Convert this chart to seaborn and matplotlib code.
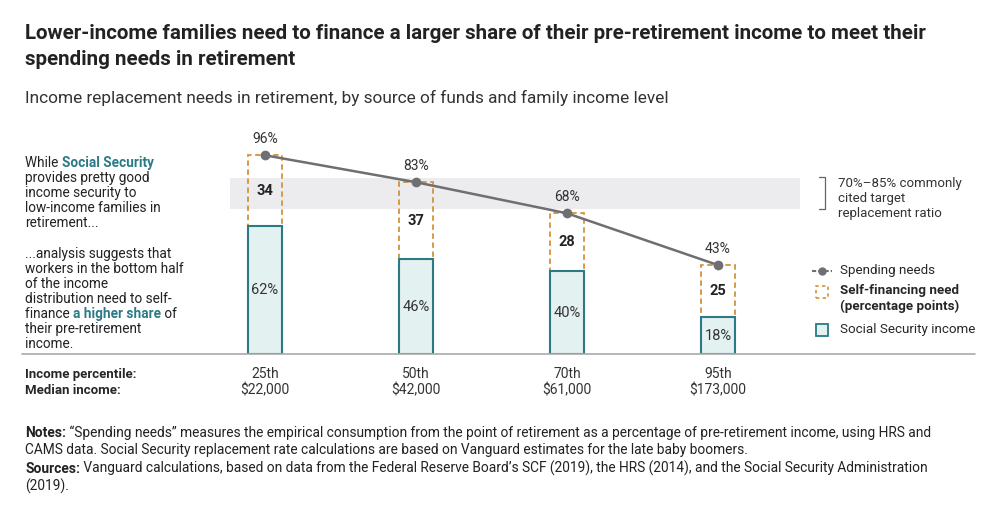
import matplotlib
matplotlib.use("Agg")
import matplotlib.pyplot as plt
import seaborn as sns
import pandas as pd
import numpy as np

percentiles = ["25th", "50th", "70th", "95th"]
median_income = ["$22,000", "$42,000", "$61,000", "$173,000"]
spending_needs = [96, 83, 68, 43]
social_security = [62, 46, 40, 18]
self_financing = [34, 37, 28, 25]

TEAL = "#2b7a86"
TEAL_FILL = "#e3f1f0"
ORANGE = "#d4923a"
GREY = "#6e6e73"

sns.set_theme(style="white")
plt.rcParams["font.family"] = ["Roboto", "DejaVu Sans"]

fig = plt.figure(figsize=(10, 5.14), dpi=100)
renderer = fig.canvas.get_renderer()


def rich_line(x, y, parts, fs):
    """Draw text segments [(text, color, weight)] one after another."""
    for txt, color, weight in parts:
        t = fig.text(x, y, txt, fontsize=fs, va="center", color=color, fontweight=weight)
        bb = t.get_window_extent(renderer=renderer)
        x += bb.width / fig.bbox.width


ax = fig.add_axes([0.23, 0.311, 0.57, 0.403])
xpos = np.arange(len(percentiles))
df = pd.DataFrame({"x": xpos, "ss": social_security, "need": spending_needs})

# target band
ax.axhspan(70, 85, color="#ececee", zorder=0, lw=0)

# self-financing dashed boxes
ax.bar(xpos, self_financing, bottom=social_security, width=0.225,
       fill=False, edgecolor=ORANGE, linestyle=(0, (3, 2)), lw=1.3, zorder=2)

sns.barplot(data=df, x="x", y="ss", native_scale=True, width=0.225,
            color=TEAL_FILL, edgecolor=TEAL, linewidth=1.5, saturation=1,
            ax=ax, zorder=3)

sns.lineplot(data=df, x="x", y="need", color=GREY, marker="o", markersize=7,
             markeredgewidth=0, lw=1.8, ax=ax, zorder=4)

for i in xpos:
    ax.text(i, social_security[i] / 2, f"{social_security[i]}%", ha="center",
            va="center", fontsize=10.5, color="#333333", zorder=5)
    ax.text(i, social_security[i] + self_financing[i] / 2, str(self_financing[i]),
            ha="center", va="center", fontsize=10.5, fontweight="bold", color="#222222")
    ax.text(i, spending_needs[i] + 4.5, f"{spending_needs[i]}%", ha="center",
            va="bottom", fontsize=10, color="#333333")

ax.set_xlim(-0.232, 3.543)
ax.set_ylim(0, 100)
ax.axis("off")
fig.add_artist(plt.Line2D([0.022, 0.975], [0.311, 0.311], color="#aaaaaa", lw=1.2))

# x labels
for i in xpos:
    fx = 0.23 + 0.57 * (i + 0.232) / 3.775
    fig.text(fx, 0.272, percentiles[i], ha="center", va="center", fontsize=10, color="#333333")
    fig.text(fx, 0.240, median_income[i], ha="center", va="center", fontsize=10, color="#333333")
fig.text(0.025, 0.272, "Income percentile:", fontsize=9.5, fontweight="bold", va="center")
fig.text(0.025, 0.240, "Median income:", fontsize=9.5, fontweight="bold", va="center")

# titles
fig.text(0.025, 0.935, "Lower-income families need to finance a larger share of their pre-retirement income to meet their",
         fontsize=14.8, fontweight="bold", color="#222222", va="center")
fig.text(0.025, 0.885, "spending needs in retirement", fontsize=14.8, fontweight="bold",
         color="#222222", va="center")
fig.text(0.025, 0.81, "Income replacement needs in retirement, by source of funds and family income level",
         fontsize=12.4, color="#333333", va="center")

# left annotations
fs = 9.8
lh = 15 / 514
black = "#222222"
y0 = 1 - 163 / 514
rich_line(0.025, y0, [("While ", black, "normal"), ("Social Security", TEAL, "bold")], fs)
for k, line in enumerate(["provides pretty good", "income security to",
                          "low-income families in", "retirement..."]):
    fig.text(0.025, y0 - lh * (k + 1), line, fontsize=fs, va="center", color=black)
y1 = 1 - 254 / 514
for k, line in enumerate(["...analysis suggests that", "workers in the bottom half",
                          "of the income", "distribution need to self-"]):
    fig.text(0.025, y1 - lh * k, line, fontsize=fs, va="center", color=black)
rich_line(0.025, y1 - lh * 4, [("finance ", black, "normal"), ("a higher share", TEAL, "bold"),
                              (" of", black, "normal")], fs)
fig.text(0.025, y1 - lh * 5, "their pre-retirement", fontsize=fs, va="center", color=black)
fig.text(0.025, y1 - lh * 6, "income.", fontsize=fs, va="center", color=black)

# bracket for band
bx = 0.825
fig.add_artist(plt.Line2D([bx - 0.006, bx, bx, bx - 0.006], [0.656, 0.656, 0.593, 0.593],
                          color="#666666", lw=0.9))
for k, line in enumerate(["70%–85% commonly", "cited target", "replacement ratio"]):
    fig.text(0.838, 0.643 - 0.029 * k, line, fontsize=9.5, va="center", color="#333333")

# legend
fig.add_artist(plt.Line2D([0.812, 0.832], [0.473, 0.473], color=GREY, lw=1.5, ls=(0, (2, 1))))
fig.add_artist(plt.Line2D([0.822], [0.473], color=GREY, marker="o", markersize=5))
fig.text(0.84, 0.473, "Spending needs", fontsize=9.6, va="center")
fig.add_artist(plt.Rectangle((0.816, 0.42), 0.012, 0.024, fill=False, edgecolor=ORANGE,
                             ls=(0, (2, 2)), lw=1.2))
fig.text(0.84, 0.434, "Self-financing need", fontsize=9.6, va="center", fontweight="bold")
fig.text(0.84, 0.403, "(percentage points)", fontsize=9.6, va="center", fontweight="bold")
fig.add_artist(plt.Rectangle((0.816, 0.346), 0.012, 0.024, facecolor=TEAL_FILL, edgecolor=TEAL, lw=1.3))
fig.text(0.84, 0.358, "Social Security income", fontsize=9.6, va="center")

# notes
nfs = 9.9
rich_line(0.025, 0.158, [("Notes:", black, "bold"),
                         (" “Spending needs” measures the empirical consumption from the point of retirement as a percentage of pre-retirement income, using HRS and", black, "normal")], nfs)
fig.text(0.025, 0.124, "CAMS data. Social Security replacement rate calculations are based on Vanguard estimates for the late baby boomers.",
         fontsize=nfs, va="center", color=black)
rich_line(0.025, 0.088, [("Sources:", black, "bold"),
                         (" Vanguard calculations, based on data from the Federal Reserve Board’s SCF (2019), the HRS (2014), and the Social Security Administration", black, "normal")], nfs)
fig.text(0.025, 0.054, "(2019).", fontsize=nfs, va="center", color=black)

fig.savefig("out.png", dpi=100)
